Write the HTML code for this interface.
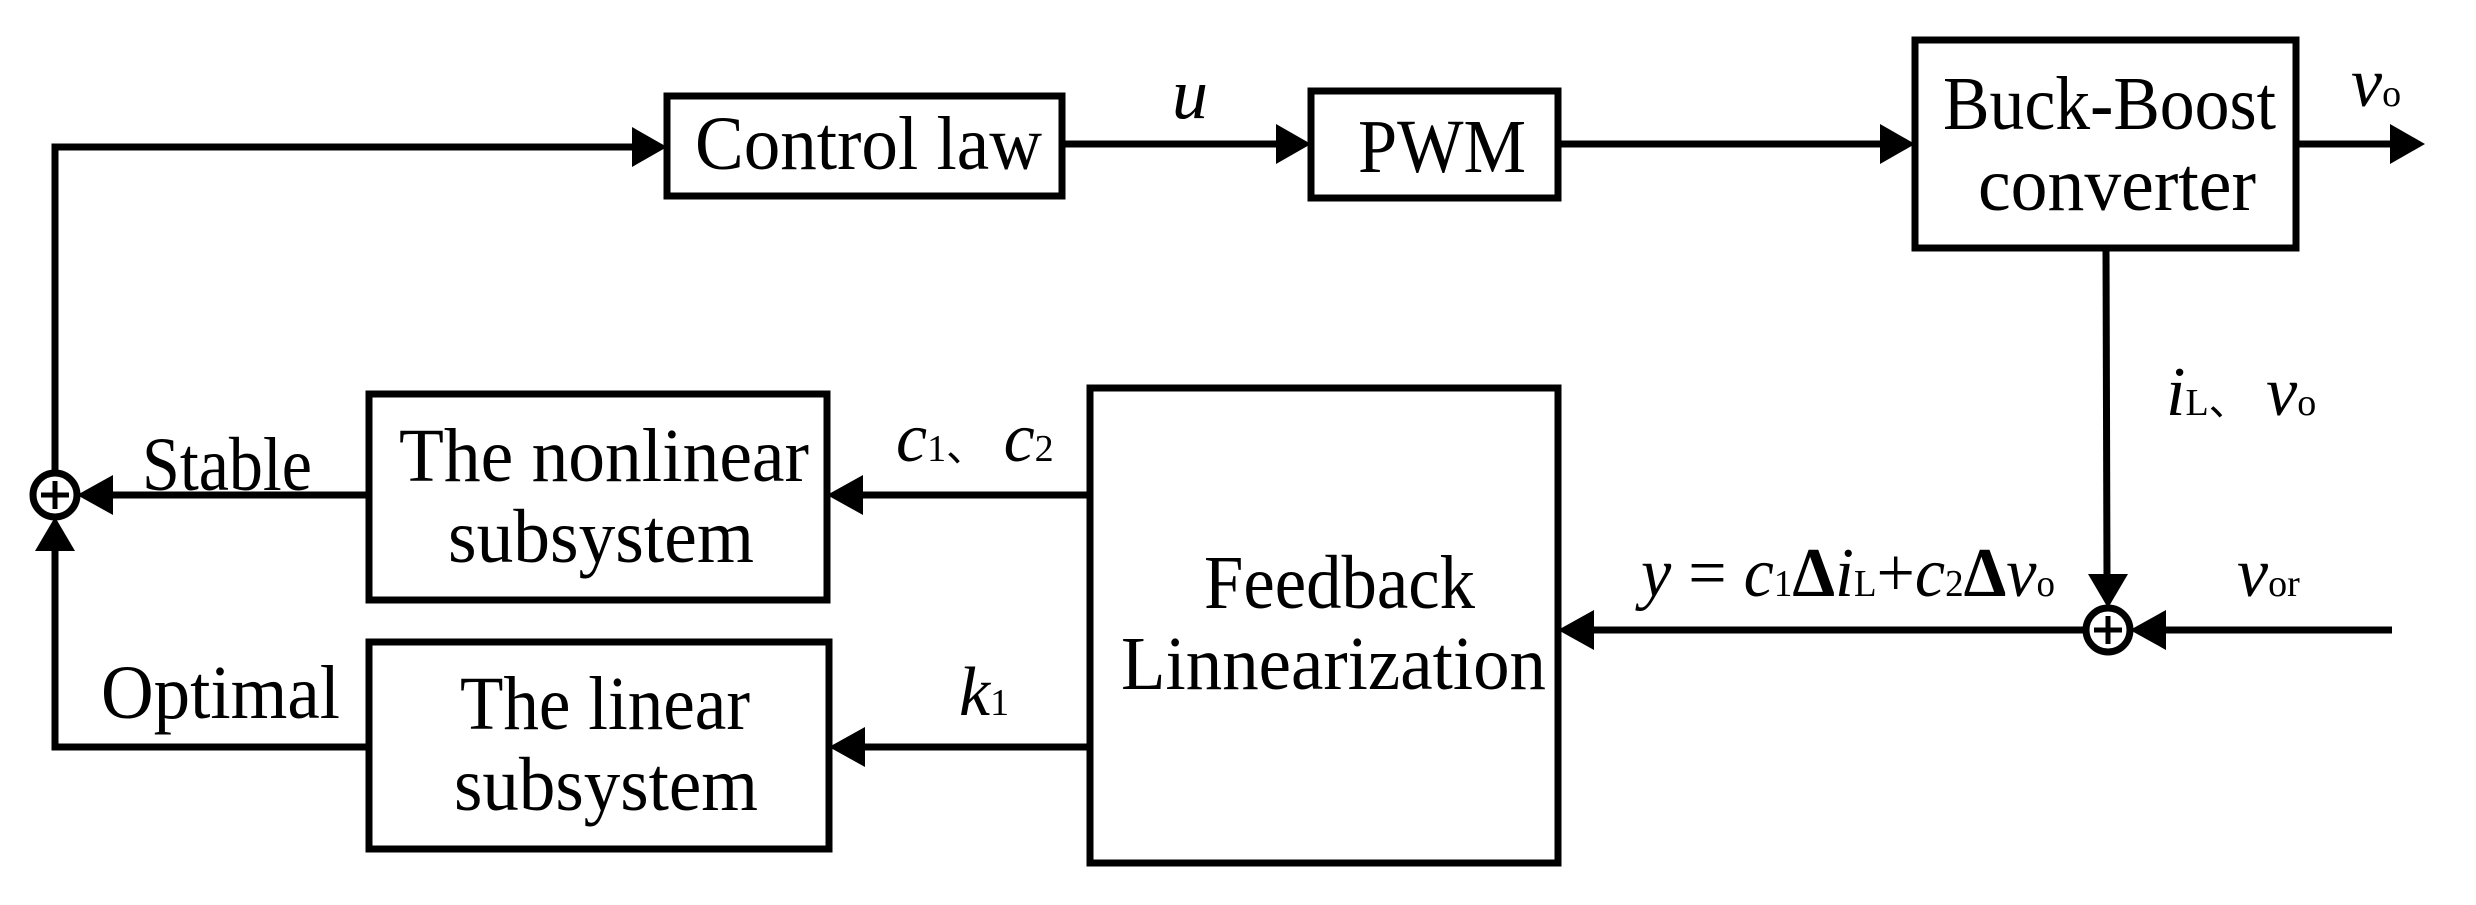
<!DOCTYPE html>
<html><head><meta charset="utf-8"><style>
html,body{margin:0;padding:0;background:#fff;}
svg{display:block;}
text{font-family:"Liberation Serif",serif;fill:#000;}
.t{font-size:76px;}
.i{font-style:italic;}
</style></head><body>
<svg width="2476" height="905" viewBox="0 0 2476 905" xmlns="http://www.w3.org/2000/svg">
<g fill="none" stroke="#000" stroke-width="7">
<rect x="667" y="96" width="395" height="100"/>
<rect x="1311" y="91" width="247" height="107"/>
<rect x="1915" y="40" width="381" height="208"/>
<rect x="369" y="394" width="458" height="206"/>
<rect x="369" y="642" width="460" height="207"/>
<rect x="1090" y="388" width="468" height="475"/>
<circle cx="55" cy="495" r="22"/>
<circle cx="2108" cy="630" r="22"/>
<polyline points="55,473 55,147 635,147"/>
<line x1="1062" y1="144" x2="1280" y2="144"/>
<line x1="1558" y1="144" x2="1884" y2="144"/>
<line x1="2296" y1="144" x2="2395" y2="144"/>
<line x1="2106" y1="248" x2="2107" y2="580"/>
<line x1="2392" y1="630" x2="2162" y2="630"/>
<line x1="2086" y1="630" x2="1592" y2="630"/>
<line x1="1090" y1="495" x2="860" y2="495"/>
<line x1="1090" y1="747" x2="862" y2="747"/>
<line x1="369" y1="495" x2="108" y2="495"/>
<polyline points="369,747 55,747 55,548"/>
</g>
<g stroke="#000" stroke-width="5">
<line x1="55" y1="481" x2="55" y2="509"/><line x1="41" y1="495" x2="69" y2="495"/>
<line x1="2108" y1="616" x2="2108" y2="644"/><line x1="2094" y1="630" x2="2122" y2="630"/>
</g>
<g fill="#000">
<polygon points="667,147 632,127 632,167"/>
<polygon points="1311,144 1276,124 1276,164"/>
<polygon points="1915,144 1880,124 1880,164"/>
<polygon points="2425,144 2390,124 2390,164"/>
<polygon points="2108,608 2088,574 2128,574"/>
<polygon points="2130,630 2166,610 2166,650"/>
<polygon points="1558,630 1594,610 1594,650"/>
<polygon points="827,495 863,475 863,515"/>
<polygon points="829,747 865,727 865,767"/>
<polygon points="77,495 113,475 113,515"/>
<polygon points="55,517 35,551 75,551"/>
</g>
<text class="t" x="695" y="169" textLength="347" lengthAdjust="spacingAndGlyphs">Control law</text>
<text class="t" x="1358" y="172" textLength="168" lengthAdjust="spacingAndGlyphs">PWM</text>
<text class="t" x="1943" y="129" textLength="333" lengthAdjust="spacingAndGlyphs">Buck-Boost</text>
<text class="t" x="1978" y="210" textLength="278" lengthAdjust="spacingAndGlyphs">converter</text>
<text class="t" x="399" y="481" textLength="410" lengthAdjust="spacingAndGlyphs">The nonlinear</text>
<text class="t" x="448" y="562" textLength="306" lengthAdjust="spacingAndGlyphs">subsystem</text>
<text class="t" x="460" y="729" textLength="290" lengthAdjust="spacingAndGlyphs">The linear</text>
<text class="t" x="454" y="810" textLength="304" lengthAdjust="spacingAndGlyphs">subsystem</text>
<text class="t" x="1204" y="608" textLength="271" lengthAdjust="spacingAndGlyphs">Feedback</text>
<text class="t" x="1121" y="689" textLength="425" lengthAdjust="spacingAndGlyphs">Linnearization</text>
<text class="t" x="142" y="490" textLength="170" lengthAdjust="spacingAndGlyphs">Stable</text>
<text class="t" x="101" y="718" textLength="239" lengthAdjust="spacingAndGlyphs">Optimal</text>
<text class="i" x="1172" y="118" style="font-size:72px">u</text>
<text x="2351" y="106" style="font-size:70px"><tspan class="i">v</tspan><tspan style="font-size:38px">o</tspan></text>
<text x="896" y="461" style="font-size:70px" font-family="Liberation Serif, Noto Serif CJK SC, serif"><tspan class="i">c</tspan><tspan style="font-size:38px">1</tspan><tspan style="font-size:40px">、</tspan> <tspan class="i">c</tspan><tspan style="font-size:38px">2</tspan></text>
<text x="959" y="715" style="font-size:70px"><tspan class="i">k</tspan><tspan style="font-size:38px">1</tspan></text>
<text x="2166" y="415" style="font-size:70px" font-family="Liberation Serif, Noto Serif CJK SC, serif"><tspan class="i">i</tspan><tspan style="font-size:38px">L</tspan><tspan style="font-size:40px">、</tspan> <tspan class="i">v</tspan><tspan style="font-size:38px">o</tspan></text>
<text x="2237" y="596" style="font-size:70px"><tspan class="i">v</tspan><tspan style="font-size:38px">or</tspan></text>
<text x="1641" y="596" style="font-size:70px" textLength="414" lengthAdjust="spacingAndGlyphs"><tspan class="i">y</tspan> = <tspan class="i">c</tspan><tspan style="font-size:38px">1</tspan><tspan font-weight="bold">Δ</tspan><tspan class="i">i</tspan><tspan style="font-size:38px">L</tspan>+<tspan class="i">c</tspan><tspan style="font-size:38px">2</tspan><tspan font-weight="bold">Δ</tspan><tspan class="i">v</tspan><tspan style="font-size:38px">o</tspan></text>
</svg>
</body></html>
